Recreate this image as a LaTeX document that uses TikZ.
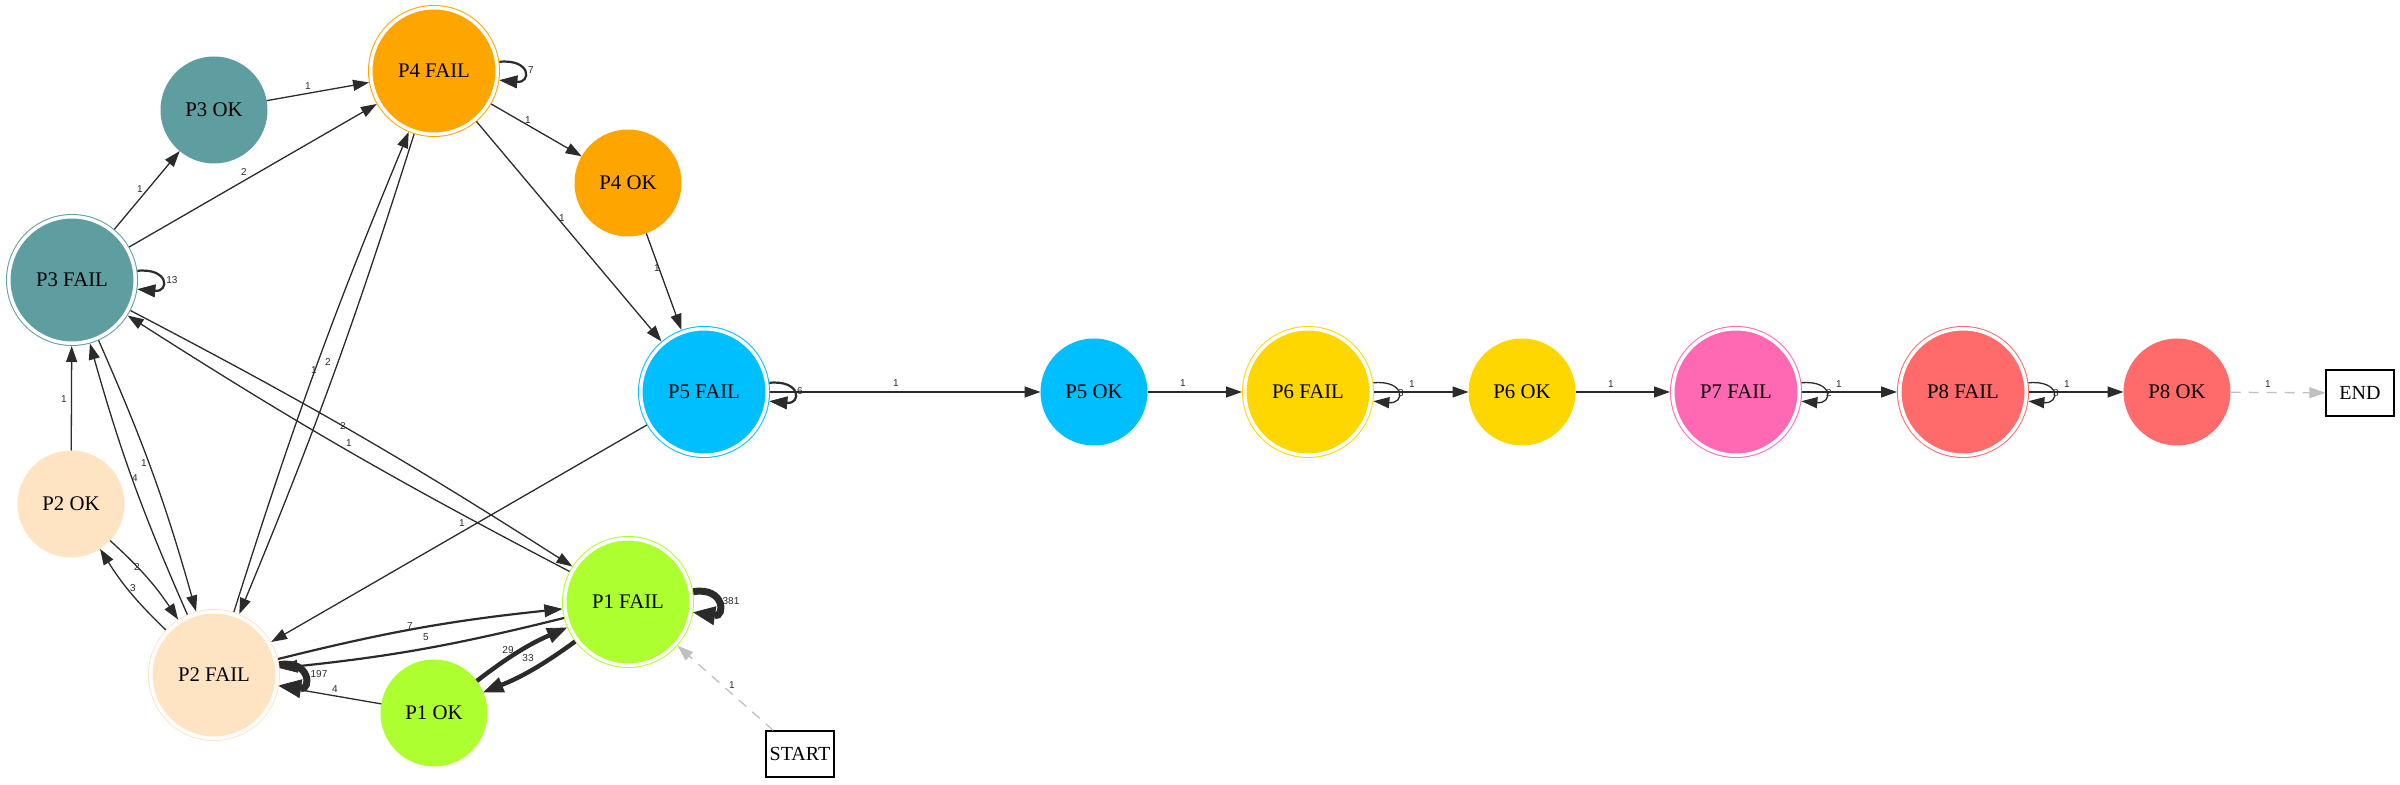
\documentclass[tikz,border=0pt]{standalone}
\usepackage{fontspec}
\setmainfont{Liberation Serif}
\setsansfont{Liberation Sans}
\usetikzlibrary{arrows.meta}

\definecolor{p1col}{HTML}{ADFF2F}
\definecolor{p2col}{HTML}{FFE4C4}
\definecolor{p3col}{HTML}{5F9EA0}
\definecolor{p4col}{HTML}{FFA500}
\definecolor{p5col}{HTML}{00BFFF}
\definecolor{p6col}{HTML}{FFD700}
\definecolor{p7col}{HTML}{FF69B4}
\definecolor{p8col}{HTML}{FF6A6A}
\definecolor{edgecol}{HTML}{2B2B2B}
\definecolor{termcol}{HTML}{C0C0C0}

\tikzset{
  okstate/.style={circle, fill=#1, draw=#1, line width=0.5pt, minimum size=53pt,
    inner sep=0pt, font=\fontsize{10.4}{12}\selectfont},
  failstate/.style={circle, fill=#1, draw=#1, line width=0.5pt, double=white,
    double distance=1.75pt, minimum size=63.25pt, inner sep=0pt, outer sep=1.375pt,
    font=\fontsize{10.4}{12}\selectfont},
  termbox/.style={rectangle, draw=black, fill=white, line width=0.6pt, minimum width=34pt,
    minimum height=23pt, inner sep=0pt, font=\fontsize{10}{12}\selectfont},
  trans/.style={draw=edgecol, line width=0.65pt, -{Triangle[length=8pt,width=5.5pt]}},
  transmid/.style={trans, line width=1.1pt, -{Triangle[length=9pt,width=6.5pt,line width=0.4pt]}},
  transbold/.style={trans, line width=2.2pt, -{Triangle[length=10pt,width=8pt,line width=0.4pt]}},
  transheavy/.style={trans, line width=3.5pt, -{Triangle[length=11pt,width=9.5pt,line width=0.4pt]}},
  termline/.style={draw=termcol, line width=0.65pt, dash pattern=on 5pt off 4pt,
    -{Triangle[length=8pt,width=5.5pt]}},
  lbl/.style={font=\fontsize{5}{6}\selectfont\sffamily, text=edgecol, inner sep=0pt}
}

\begin{document}
\begin{tikzpicture}[x=0.5pt, y=-0.5pt]
  \useasboundingbox (0,0) rectangle (2400,785);

  % states
  \node[okstate=p3col] (p3ok) at (214,110) {P3 OK};
  \node[failstate=p4col] (p4f) at (434,71) {P4 FAIL};
  \node[okstate=p4col] (p4ok) at (628,183) {P4 OK};
  \node[failstate=p3col] (p3f) at (72,280) {P3 FAIL};
  \node[failstate=p5col] (p5f) at (704,392) {P5 FAIL};
  \node[okstate=p5col] (p5ok) at (1094,392) {P5 OK};
  \node[failstate=p6col] (p6f) at (1308,392) {P6 FAIL};
  \node[okstate=p6col] (p6ok) at (1522,392) {P6 OK};
  \node[failstate=p7col] (p7f) at (1736,392) {P7 FAIL};
  \node[failstate=p8col] (p8f) at (1963,392) {P8 FAIL};
  \node[okstate=p8col] (p8ok) at (2177,392) {P8 OK};
  \node[termbox] (endbox) at (2360,393) {END};
  \node[okstate=p2col] (p2ok) at (71,504) {P2 OK};
  \node[failstate=p2col] (p2f) at (214,675) {P2 FAIL};
  \node[failstate=p1col] (p1f) at (628,602) {P1 FAIL};
  \node[okstate=p1col] (p1ok) at (434,713) {P1 OK};
  \node[termbox] (startbox) at (800,754) {START};

  % upper part
  \draw[trans] (p3f) -- (p3ok) node[lbl] at (140,189) {1};
  \draw[trans] (p3ok) -- (p4f) node[lbl] at (308,86) {1};
  \draw[trans] (p3f) -- (p4f) node[lbl] at (244,172) {2};
  \draw[transmid] (p3f.8) .. controls +(32,-3) and +(32,3) .. (p3f.-8) node[lbl] at (172,280) {13};
  \draw[transmid] (p4f.8) .. controls +(32,-3) and +(32,3) .. (p4f.-8) node[lbl] at (531,70) {7};
  \draw[trans] (p4f) -- (p4ok) node[lbl] at (528,120) {1};
  \draw[trans] (p4f) -- (p5f) node[lbl] at (562,218) {1};
  \draw[trans] (p4ok) -- (p5f) node[lbl] at (657,268) {1};
  \draw[transmid] (p5f.8) .. controls +(32,-3) and +(32,3) .. (p5f.-8) node[lbl] at (800,391) {6};

  % main row
  \draw[trans] (p5f) -- (p5ok) node[lbl] at (896,383) {1};
  \draw[trans] (p5ok) -- (p6f) node[lbl] at (1183,383) {1};
  \draw[trans] (p6f.8) .. controls +(32,-3) and +(32,3) .. (p6f.-8) node[lbl] at (1401,393) {3};
  \draw[trans] (p6f) -- (p6ok) node[lbl] at (1412,384) {1};
  \draw[trans] (p6ok) -- (p7f) node[lbl] at (1611,384) {1};
  \draw[trans] (p7f.8) .. controls +(32,-3) and +(32,3) .. (p7f.-8) node[lbl] at (1829,393) {2};
  \draw[trans] (p7f) -- (p8f) node[lbl] at (1839,384) {1};
  \draw[trans] (p8f.8) .. controls +(32,-3) and +(32,3) .. (p8f.-8) node[lbl] at (2056,393) {3};
  \draw[trans] (p8f) -- (p8ok) node[lbl] at (2067,384) {1};
  \draw[termline] (p8ok) -- (endbox) node[lbl] at (2268,384) {1};

  % left part
  \draw[trans] (p2ok) -- (p3f) node[lbl] at (64,399) {1};
  \draw[trans] (p2f) to[bend left=4] (p3f) node[lbl] at (135,478) {4};
  \draw[trans] (p3f) to[bend left=4] (p2f) node[lbl] at (144,463) {1};
  \draw[trans] (p2ok) to[bend left=7] (p2f) node[lbl] at (137,567) {2};
  \draw[trans] (p2f) to[bend left=7] (p2ok) node[lbl] at (133,588) {3};
  \draw[trans] (p2f) to[bend left=2.5] (p4f) node[lbl] at (314,370) {1};
  \draw[trans] (p4f) to[bend left=2.5] (p2f) node[lbl] at (328,362) {2};
  \draw[trans] (p3f) to[bend left=2.5] (p1f) node[lbl] at (343,426) {2};
  \draw[trans] (p1f) to[bend left=2.5] (p3f) node[lbl] at (349,443) {1};
  \draw[trans] (p5f) -- (p2f) node[lbl] at (462,523) {1};

  % bottom part
  \draw[transmid] (p2f) to[bend left=4] (p1f) node[lbl] at (410,626) {7};
  \draw[transmid] (p1f) to[bend left=4] (p2f) node[lbl] at (426,637) {5};
  \draw[transheavy] (p2f.9) .. controls +(32,-5) and +(32,5) .. (p2f.-9) node[lbl] at (319,674) {197};
  \draw[trans] (p1ok) -- (p2f) node[lbl] at (335,689) {4};
  \draw[transbold] (p1ok) to[bend left=7] (p1f) node[lbl] at (508,650) {29};
  \draw[transbold] (p1f) to[bend left=7] (p1ok) node[lbl] at (528,658) {33};
  \draw[transheavy] (p1f.9) .. controls +(32,-5) and +(32,5) .. (p1f.-9) node[lbl] at (731,601) {381};
  \draw[termline] (startbox) -- (p1f) node[lbl] at (732,685) {1};
\end{tikzpicture}
\end{document}
